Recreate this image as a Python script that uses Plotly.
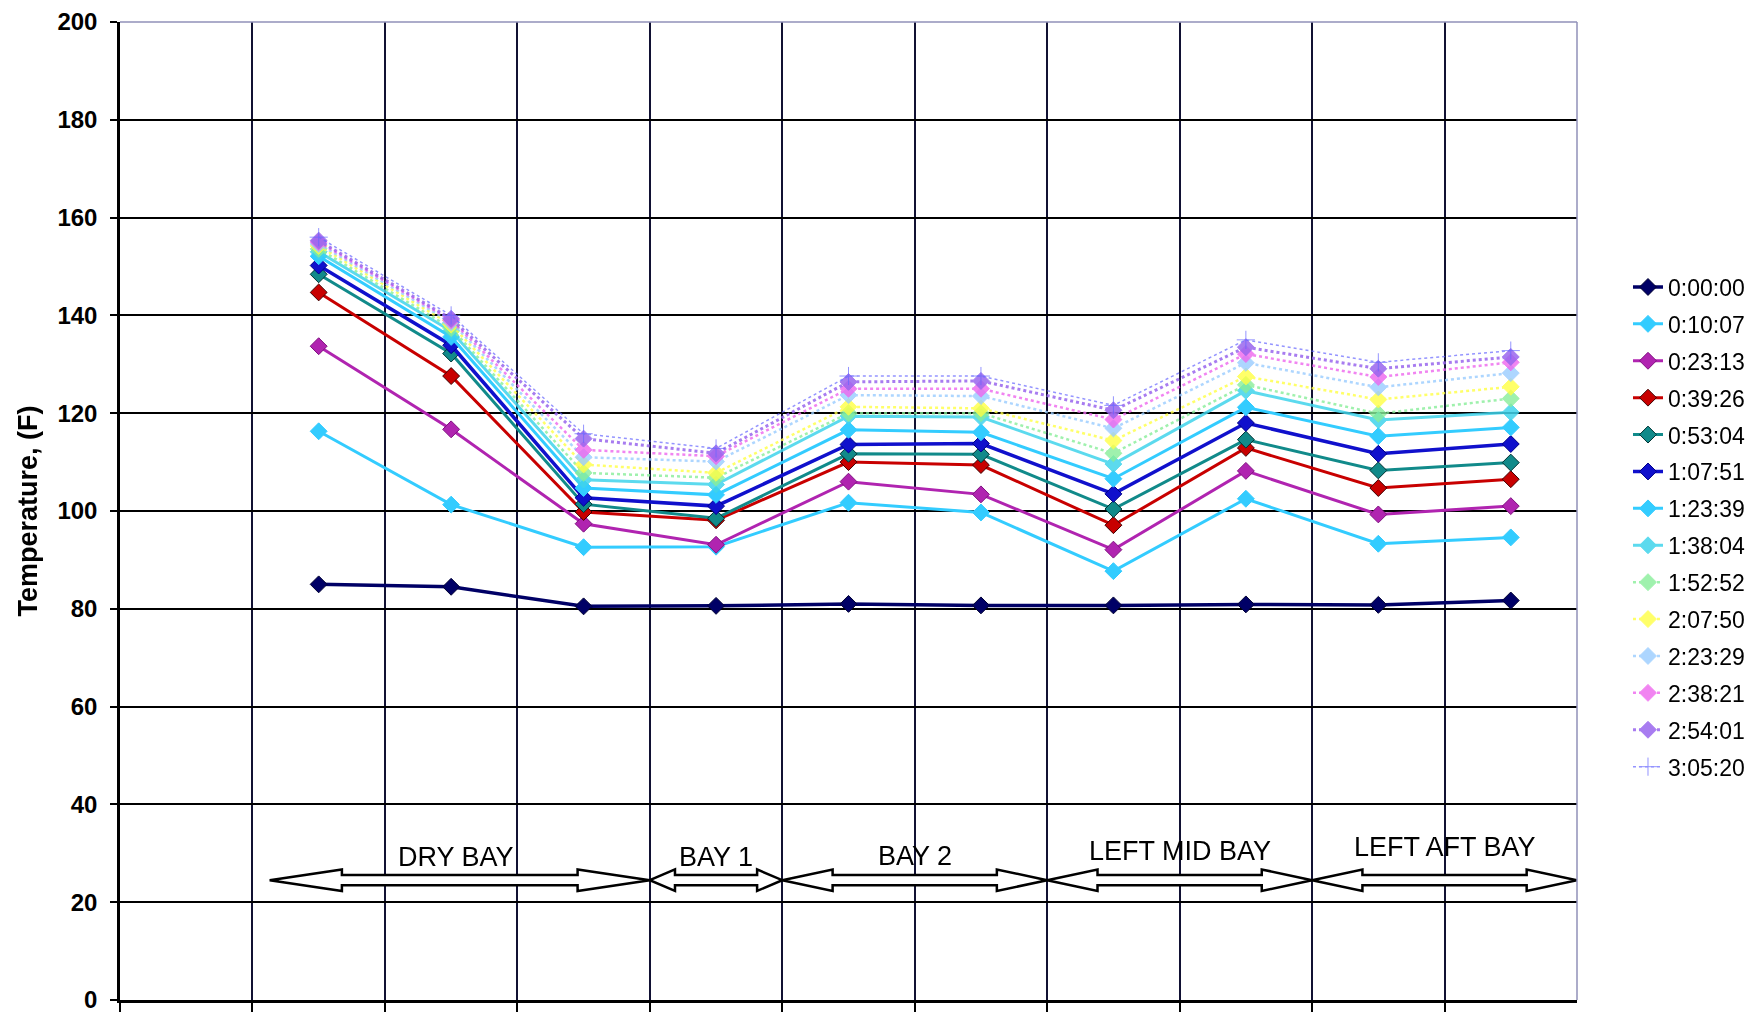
import plotly.graph_objects as go

# ---------------- data ----------------
positions = [1, 2, 3, 4, 5, 6, 7, 8, 9, 10]
series_names = ["0:00:00", "0:10:07", "0:23:13", "0:39:26", "0:53:04", "1:07:51", "1:23:39",
                "1:38:04", "1:52:52", "2:07:50", "2:23:29", "2:38:21", "2:54:01", "3:05:20"]
t_0_00_00 = [85.0, 84.5, 80.5, 80.6, 81.0, 80.7, 80.7, 80.9, 80.8, 81.7]
t_0_10_07 = [116.3, 101.3, 92.6, 92.7, 101.7, 99.7, 87.7, 102.5, 93.3, 94.6]
t_0_23_13 = [133.7, 116.7, 97.4, 93.1, 106.0, 103.4, 92.1, 108.2, 99.3, 101.0]
t_0_39_26 = [144.7, 127.6, 99.8, 98.1, 110.0, 109.4, 97.1, 112.9, 104.7, 106.5]
t_0_53_04 = [148.4, 132.2, 101.4, 98.5, 111.7, 111.6, 100.4, 114.6, 108.3, 109.9]
t_1_07_51 = [150.2, 133.9, 102.7, 101.0, 113.6, 113.8, 103.5, 118.0, 111.7, 113.7]
t_1_23_39 = [152.1, 135.6, 104.7, 103.3, 116.6, 116.1, 106.6, 121.2, 115.3, 117.1]
t_1_38_04 = [153.0, 136.8, 106.4, 105.4, 119.4, 119.2, 109.6, 124.6, 118.6, 120.2]
t_1_52_52 = [153.6, 137.4, 107.8, 106.8, 120.0, 120.0, 111.8, 125.8, 119.9, 123.0]
t_2_07_50 = [154.2, 138.1, 109.5, 107.8, 121.3, 121.0, 114.4, 127.5, 122.8, 125.4]
t_2_23_29 = [154.6, 138.6, 111.0, 110.1, 123.7, 123.5, 116.9, 130.3, 125.3, 128.2]
t_2_38_21 = [155.0, 139.0, 112.5, 111.2, 125.0, 125.0, 118.7, 132.1, 127.4, 130.4]
t_2_54_01 = [155.3, 139.3, 114.8, 111.8, 126.4, 126.6, 120.6, 133.5, 129.1, 131.5]
t_3_05_20 = [156.0, 140.0, 115.8, 112.8, 127.6, 127.6, 121.6, 135.0, 130.4, 132.8]
series_values = [t_0_00_00, t_0_10_07, t_0_23_13, t_0_39_26, t_0_53_04, t_1_07_51, t_1_23_39,
                 t_1_38_04, t_1_52_52, t_2_07_50, t_2_23_29, t_2_38_21, t_2_54_01, t_3_05_20]

region_labels = ["DRY BAY", "BAY 1", "BAY 2", "LEFT MID BAY", "LEFT AFT BAY"]
region_start = [0.63, 3.5, 4.5, 6.5, 8.5]
region_end = [3.5, 4.5, 6.5, 8.5, 10.5]
y_ticks = [0, 20, 40, 60, 80, 100, 120, 140, 160, 180, 200]

# ---------------- styles ----------------
styles = [
    dict(color="#000066", mline="#000033", dash="solid", width=3.5, symbol="diamond", op=1.0),
    dict(color="#33ccff", mline="#33ccff", dash="solid", width=3, symbol="diamond", op=1.0),
    dict(color="#b024b0", mline="#801080", dash="solid", width=3, symbol="diamond", op=1.0),
    dict(color="#c80000", mline="#400000", dash="solid", width=3, symbol="diamond", op=1.0),
    dict(color="#118a8a", mline="#003333", dash="solid", width=3, symbol="diamond", op=1.0),
    dict(color="#1010cc", mline="#000088", dash="solid", width=3.5, symbol="diamond", op=1.0),
    dict(color="#33ccff", mline="#33ccff", dash="solid", width=3, symbol="diamond", op=1.0),
    dict(color="#40d4ec", mline="#40d4ec", dash="solid", width=3, symbol="diamond", op=0.85),
    dict(color="#88ee99", mline="#88ee99", dash="dot", width=2.5, symbol="diamond", op=0.8),
    dict(color="#ffff44", mline="#ffff44", dash="dot", width=2.5, symbol="diamond", op=0.8),
    dict(color="#99ccff", mline="#99ccff", dash="dot", width=2.5, symbol="diamond", op=0.8),
    dict(color="#ee66ee", mline="#ee66ee", dash="dot", width=2.5, symbol="diamond", op=0.8),
    dict(color="#9966ee", mline="#9966ee", dash="dot", width=3, symbol="diamond", op=0.85),
    dict(color="#6666ff", mline="#6666ff", dash="dot", width=1.5, symbol="cross-thin", op=0.7),
]

fig = go.Figure()
for i, (name, vals, st) in enumerate(zip(series_names, series_values, styles)):
    fig.add_trace(go.Scatter(
        x=positions, y=vals, name=name, mode="lines+markers",
        legendgroup="g%d" % i,
        line=dict(color=st["color"], width=st["width"], dash=st["dash"]),
        marker=dict(symbol=st["symbol"], size=13, color=st["color"],
                    line=dict(color=st["mline"], width=1)),
        opacity=st["op"],
    ))

# ---------------- double arrows ----------------
yc, head_h, shaft_h = 24.5, 2.2, 1.05
for lab, s, e in zip(region_labels, region_start, region_end):
    hl = 0.19 * (e - s)
    path = (f"M{s},{yc} L{s+hl},{yc+head_h} L{s+hl},{yc+shaft_h} L{e-hl},{yc+shaft_h} "
            f"L{e-hl},{yc+head_h} L{e},{yc} L{e-hl},{yc-head_h} L{e-hl},{yc-shaft_h} "
            f"L{s+hl},{yc-shaft_h} L{s+hl},{yc-head_h} Z")
    fig.add_shape(type="path", path=path, xref="x", yref="y",
                  line=dict(color="black", width=2.5), fillcolor="white", layer="above")

label_y = [29.2, 29.2, 29.4, 30.5, 31.2]
for lab, s, e, ly in zip(region_labels, region_start, region_end, label_y):
    cx = (s + e) / 2 if lab != "DRY BAY" else 2.04
    fig.add_annotation(x=cx, y=ly, xref="x", yref="y", text=lab, showarrow=False,
                       font=dict(family="Liberation Sans, Arial", size=27, color="black"),
                       xanchor="center", yanchor="middle")

# top & right border (light)
fig.add_shape(type="line", xref="paper", yref="paper", x0=0, x1=1, y0=1, y1=1,
              line=dict(color="#9090b8", width=1.5), layer="above")
fig.add_shape(type="line", xref="paper", yref="paper", x0=1, x1=1, y0=0, y1=1,
              line=dict(color="#9090b8", width=1.5), layer="above")

fig.update_layout(
    width=1756, height=1017,
    margin=dict(l=120, r=179, t=22, b=17, autoexpand=False),
    paper_bgcolor="white", plot_bgcolor="white",
    font=dict(family="Liberation Sans, Arial", color="black"),
    showlegend=True,
    legend=dict(
        x=1.035, y=0.751, xanchor="left", yanchor="top",
        font=dict(family="Liberation Sans, Arial", size=23, color="black"),
        traceorder="grouped", tracegroupgap=4,
        bgcolor="rgba(0,0,0,0)", borderwidth=0,
    ),
    xaxis=dict(
        range=[-0.5, 10.5], tickmode="array", automargin=False,
        tickvals=[k - 0.5 for k in range(11)],
        showticklabels=False, showgrid=True, gridcolor="#111133", gridwidth=1.5,
        ticks="outside", ticklen=9, tickcolor="black", tickwidth=1.5,
        showline=True, linecolor="black", linewidth=2.5, zeroline=False,
    ),
    yaxis=dict(
        range=[0, 200], tickmode="array", tickvals=y_ticks, automargin=False,
        showgrid=True, gridcolor="black", gridwidth=1.5,
        ticks="outside", ticklen=7, tickcolor="black", tickwidth=1.5,
        ticklabelstandoff=8, ticklabeloverflow="allow",
        tickfont=dict(family="Liberation Sans, Arial", size=24, color="black", weight="bold"),
        showline=True, linecolor="black", linewidth=2.5, zeroline=False,
        title=dict(text="Temperature, (F)", standoff=12,
                   font=dict(family="Liberation Sans Narrow, Liberation Sans, Arial", size=27,
                             color="black", weight="bold")),
    ),
)

fig.write_html("out.html", config={"displayModeBar": False},
               post_script="document.body.style.margin='0';document.body.style.overflow='hidden';")
